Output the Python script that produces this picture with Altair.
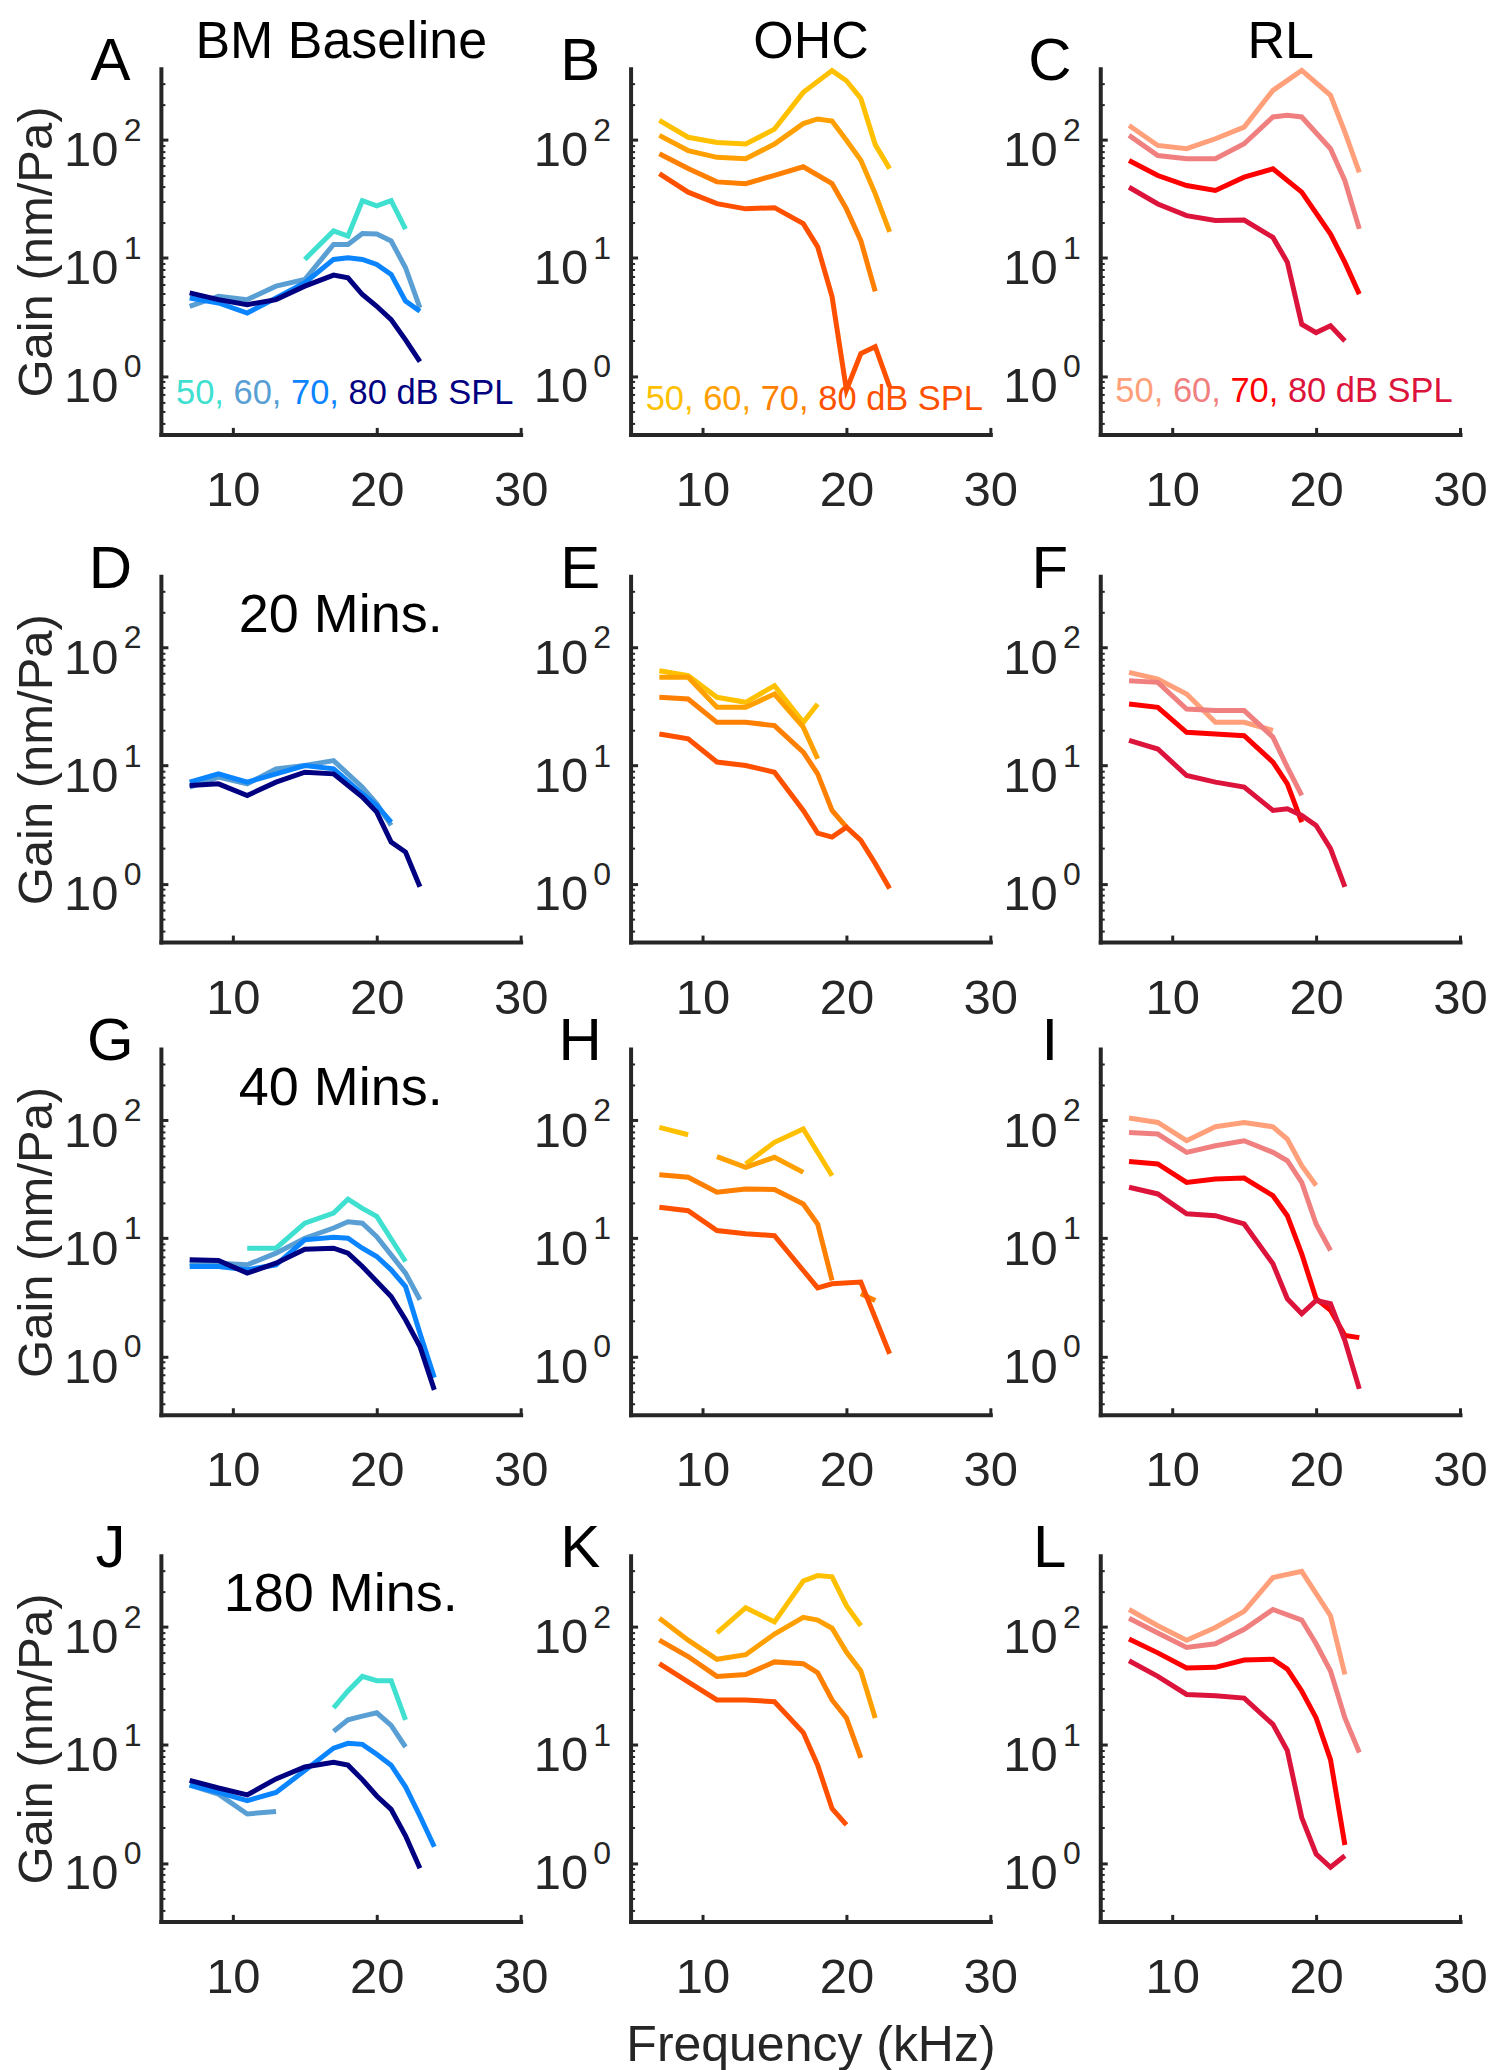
import altair as alt
import pandas as pd

# ---------------------------------------------------------------- data
LEVELS = ["50", "60", "70", "80"]
COLUMN_TITLES = ["BM Baseline", "OHC", "RL"]
TIME_LABELS = ["", "20 Mins.", "40 Mins.", "180 Mins."]
PANEL_LETTERS = [["A", "B", "C"], ["D", "E", "F"], ["G", "H", "I"], ["J", "K", "L"]]

BM_COLORS = ["#40E0D0", "#5A9FD4", "#0A84FF", "#000080"]
OHC_COLORS = ["#FFC000", "#FFA000", "#FF7F00", "#FF5000"]
RL_COLORS = ["#FFA07A", "#F08080", "#FF0000", "#DC143C"]

FREQ_TICKS = [10, 20, 30]
GAIN_DECADES = [1, 10, 100]
GAIN_MINOR = [0.4, 0.5, 0.6, 0.7, 0.8, 0.9, 2, 3, 4, 5, 6, 7, 8, 9,
              20, 30, 40, 50, 60, 70, 80, 90, 200, 300]

LEGEND_PIECES = ["50,", "60,", "70,", "80 dB SPL"]
LEGEND_X0 = 6.05
LEGEND_Y = [0.70, 0.62, 0.73]
TIME_LABEL_X = 17.5
TIME_LABEL_Y = 185

# (frequency kHz, gain nm/Pa); None breaks the line
A_50 = [(15, 9.7), (17, 16.9), (18, 15.3), (19, 30.5), (20, 27.6), (21, 30.5), (22, 17.5)]
A_60 = [(7, 3.89), (9, 4.73), (11, 4.43), (13, 5.76), (15, 6.56), (17, 13.0), (18, 13.0),
        (19, 16.1), (20, 15.9), (21, 13.9), (22, 8.25), (23, 3.77)]
A_70 = [(7, 4.58), (9, 4.15), (11, 3.41), (13, 4.58), (15, 6.15), (17, 9.7), (18, 10.0),
        (19, 9.7), (20, 8.8), (21, 7.24), (22, 4.3), (23, 3.53)]
A_80 = [(7, 5.05), (9, 4.43), (11, 4.02), (13, 4.43), (15, 5.76), (17, 7.14), (18, 6.78),
        (19, 4.89), (20, 3.89), (21, 3.0), (22, 2.02), (23, 1.32)]

B_50 = [(7, 146), (9, 105), (11, 95), (13, 92), (15, 123), (17, 252), (19, 385),
        (20, 316), (21, 224), (22, 91), (23, 57)]
B_60 = [(7, 109), (9, 81), (11, 71), (13, 69), (15, 92), (17, 137), (18, 150), (19, 144),
        (20, 99), (21, 67), (22, 35), (23, 16.6)]
B_70 = [(7, 76), (9, 57), (11, 44), (13, 42.5), (15, 50), (17, 59), (19, 42.5), (20, 26),
        (21, 14), (22, 5.2)]
B_80 = [(7, 51.6), (9, 36), (11, 28.8), (13, 26), (15, 26.6), (17, 19.5), (18, 12.4),
        (19, 4.7), (20, 0.76), (21, 1.55), (22, 1.77), (23, 0.81)]

C_50 = [(7, 132), (9, 89.5), (11, 84), (13, 102), (15, 128), (17, 262), (19, 387),
        (21, 238), (22, 116), (23, 53)]
C_60 = [(7, 109), (9, 73.6), (11, 69), (13, 69), (15, 92.5), (17, 156), (18, 161),
        (19, 156), (21, 84), (22, 45), (23, 17.6)]
C_70 = [(7, 66.8), (9, 49.8), (11, 41), (13, 37.2), (15, 48.2), (17, 56.7), (19, 36),
        (21, 15.9), (22, 9.16), (23, 4.93)]
C_80 = [(7, 39.6), (9, 28.6), (11, 22.8), (13, 20.7), (15, 20.9), (17, 14.9), (18, 9.2),
        (19, 2.74), (20, 2.33), (21, 2.66), (22, 1.98)]

D_50 = []
D_60 = [(7, 6.56), (9, 7.97), (11, 7.0), (13, 9.37), (15, 10.0), (17, 11.0), (19, 6.56),
        (20, 4.74), (21, 3.11)]
D_70 = [(7, 7.23), (9, 8.5), (11, 7.23), (13, 8.5), (15, 10.0), (17, 9.37), (19, 5.76),
        (20, 4.59), (21, 3.32)]
D_80 = [(7, 6.78), (9, 7.0), (11, 5.58), (13, 7.23), (15, 8.78), (17, 8.5), (19, 5.4),
        (20, 4.03), (21, 2.25), (22, 1.85), (23, 0.94)]

E_50 = [(7, 63.5), (9, 57.6), (11, 37.8), (13, 34.3), (15, 47.4), (17, 23.2), (18, 33.2)]
E_60 = [(7, 55.8), (9, 55.8), (11, 31.1), (13, 31.1), (15, 40.3), (17, 21.1), (18, 11.4)]
E_70 = [(7, 37.8), (9, 36.6), (11, 23.2), (13, 23.2), (15, 21.8), (17, 13.0), (18, 8.5),
        (19, 4.17), (20, 3.01)]
E_80 = [(7, 18.5), (9, 16.8), (11, 10.7), (13, 10.0), (15, 8.78), (17, 4.17), (18, 2.68),
        (19, 2.48), (20, 3.01), (21, 2.32), (22, 1.48), (23, 0.91)]

F_50 = [(7, 61.5), (9, 54), (11, 40.3), (13, 23.2), (15, 23.2), (17, 19.8)]
F_60 = [(7, 52.3), (9, 50.6), (11, 30.1), (13, 29.2), (15, 29.2), (17, 17.4), (18, 9.68),
        (19, 5.58)]
F_70 = [(7, 33.2), (9, 31.1), (11, 19.1), (13, 18.5), (15, 17.9), (17, 10.7), (18, 7.0),
        (19, 3.32)]
F_80 = [(7, 16.3), (9, 13.8), (11, 8.23), (13, 7.23), (15, 6.56), (17, 4.17), (18, 4.3),
        (19, 3.78), (20, 3.11), (21, 1.98), (22, 0.94)]

G_50 = [(11, 8.23), (13, 8.23), (15, 13.4), (17, 16.3), (18, 21.4), (19, 17.9), (20, 15.3),
        (22, 6.35)]
G_60 = [(7, 6.15), (9, 6.15), (11, 5.95), (13, 7.47), (15, 10.0), (17, 12.2), (18, 13.8),
        (19, 13.4), (20, 10.3), (21, 7.23), (22, 5.06), (23, 3.01)]
G_70 = [(7, 5.76), (9, 5.76), (11, 5.4), (13, 5.95), (15, 9.68), (17, 10.2), (18, 10.0),
        (19, 8.23), (20, 7.0), (21, 5.4), (22, 3.9), (23, 1.57), (24, 0.66)]
G_80 = [(7, 6.56), (9, 6.47), (11, 5.06), (13, 6.15), (15, 8.07), (17, 8.23), (18, 7.47),
        (19, 5.76), (20, 4.3), (21, 3.21), (22, 2.04), (23, 1.21), (24, 0.52)]

H_50 = [(7, 86.7), (9, 75.2), (11, None), (13, 42.5), (15, 64.8), (17, 84), (19, 33.8)]
H_60 = [(11, 49), (13, 39.8), (15, 48.4), (17, 36.1)]
H_70 = [(7, 34.5), (9, 32.8), (11, 24.5), (13, 26.1), (15, 25.8), (17, 19.5), (18, 13.2),
        (19, 4.39), (20, None), (21, 3.38), (22, 2.97)]
H_80 = [(7, 18.3), (9, 17.1), (11, 11.6), (13, 10.9), (15, 10.5), (17, 5.33), (18, 3.8),
        (19, 4.11), (21, 4.25), (23, 1.05)]

I_50 = [(7, 104), (9, 95.5), (11, 66.9), (13, 87.8), (15, 95.5), (17, 87.8), (18, 69),
        (19, 41.1), (20, 27.9)]
I_60 = [(7, 78.7), (9, 76.2), (11, 53.3), (13, 60.7), (15, 66.9), (17, 53.3), (18, 45.3),
        (19, 29.7), (20, 13.2), (21, 7.87)]
I_70 = [(7, 44.7), (9, 42.5), (11, 29.7), (13, 31.7), (15, 32.3), (17, 22.9), (18, 15.5),
        (19, 7.37), (20, 3.07), (21, 2.45), (22, 1.5), (23, 1.44)]
I_80 = [(7, 27), (9, 23.7), (11, 16.1), (13, 15.5), (15, 13.2), (17, 6.07), (18, 3.07),
        (19, 2.29), (20, 2.97), (21, 2.79), (22, 1.36), (23, 0.53)]

J_50 = [(17, 20.6), (18, 28.6), (19, 38), (20, 34.9), (21, 34.9), (22, 16.3)]
J_60 = [(7, 4.57), (9, 3.83), (11, 2.6), (13, 2.73), (15, None), (17, 13), (18, 16.3),
        (19, 17.5), (20, 18.7), (21, 14.6), (22, 9.59)]
J_70 = [(7, 4.57), (9, 3.96), (11, 3.37), (13, 3.96), (15, 6.06), (17, 9.38), (18, 10.3),
        (19, 10.1), (20, 8.32), (21, 6.73), (22, 4.41), (23, 2.5), (24, 1.37)]
J_80 = [(7, 5.0), (9, 4.31), (11, 3.77), (13, 5.15), (15, 6.5), (17, 7.12), (18, 6.73),
        (19, 5.08), (20, 3.69), (21, 2.84), (22, 1.7), (23, 0.9)]

K_50 = [(11, 88.7), (13, 145), (15, 110), (17, 244), (18, 271), (19, 265), (20, 151),
        (21, 102)]
K_60 = [(7, 118), (9, 77), (11, 53), (13, 58), (15, 86.8), (17, 120), (18, 114), (19, 97.2),
        (20, 61), (21, 42.2), (22, 16.9)]
K_70 = [(7, 77), (9, 56), (11, 38), (13, 39.4), (15, 50.4), (17, 48.7), (18, 40.8),
        (19, 24), (20, 16.9), (21, 7.76)]
K_80 = [(7, 48.7), (9, 34.2), (11, 24), (13, 24), (15, 23.2), (17, 12.7), (18, 6.73),
        (19, 2.89), (20, 2.1)]

L_50 = [(7, 140), (9, 102), (11, 77), (13, 98.6), (15, 135), (17, 261), (19, 295),
        (21, 124), (22, 39.4)]
L_60 = [(7, 118), (9, 88.7), (11, 66.9), (13, 71.8), (15, 95.2), (17, 140), (19, 114),
        (20, 71.8), (21, 42.2), (22, 16.9), (23, 8.62)]
L_70 = [(7, 78.7), (9, 60.1), (11, 44.7), (13, 45.3), (15, 52.2), (17, 53), (18, 43.8),
        (19, 28.6), (20, 16.9), (21, 7.49), (22, 1.42)]
L_80 = [(7, 51.5), (9, 38), (11, 26.7), (13, 26.1), (15, 24.9), (17, 14.9), (18, 8.93),
        (19, 2.42), (20, 1.19), (21, 0.92), (22, 1.15)]

PANEL_SERIES = {
    "A": [A_50, A_60, A_70, A_80], "B": [B_50, B_60, B_70, B_80], "C": [C_50, C_60, C_70, C_80],
    "D": [D_50, D_60, D_70, D_80], "E": [E_50, E_60, E_70, E_80], "F": [F_50, F_60, F_70, F_80],
    "G": [G_50, G_60, G_70, G_80], "H": [H_50, H_60, H_70, H_80], "I": [I_50, I_60, I_70, I_80],
    "J": [J_50, J_60, J_70, J_80], "K": [K_50, K_60, K_70, K_80], "L": [L_50, L_60, L_70, L_80],
}
COLUMN_COLORS = [BM_COLORS, OHC_COLORS, RL_COLORS]

# ---------------------------------------------------------------- style / layout
FONT = "Liberation Sans"
AXIS_GRAY = "#262626"
PANEL_W, PANEL_H = 360, 366
COL_GAP = 110
ROW_GAPS = [142, 107, 141]
X_DOMAIN = [5, 30]
Y_DOMAIN = [0.32, 400]
LEGEND_FS = 34.5
LINE_W = 5
PX_PER_KHZ = PANEL_W / (X_DOMAIN[1] - X_DOMAIN[0])
CHAR_EM = {"0": .556, "1": .556, "2": .556, "3": .556, "4": .556, "5": .556, "6": .556,
           "7": .556, "8": .556, "9": .556, ",": .278, " ": .278}

xs = alt.Scale(domain=X_DOMAIN, nice=False, zero=False)
ys = alt.Scale(type="log", domain=Y_DOMAIN, nice=False)


def series_frame(series_list, colors):
    recs = []
    for lvl, col, pts in zip(LEVELS, colors, series_list):
        seg = 0
        for f, g in pts:
            if g is None:
                seg += 1
                continue
            recs.append({"f": f, "g": g, "key": f"{lvl}-{seg}", "color": col})
    return pd.DataFrame(recs)


def legend_frame(c):
    recs = []
    x = LEGEND_X0
    for piece, col in zip(LEGEND_PIECES, COLUMN_COLORS[c]):
        recs.append({"x": x, "y": LEGEND_Y[c], "t": piece, "color": col})
        w_em = sum(CHAR_EM.get(ch, .6) for ch in piece + " ")
        x += w_em * LEGEND_FS / PX_PER_KHZ
    return pd.DataFrame(recs)


def make_panel(r, c):
    letter = PANEL_LETTERS[r][c]
    df = series_frame(PANEL_SERIES[letter], COLUMN_COLORS[c])

    xm = dict(values=FREQ_TICKS, format="d", ticks=False, tickSize=0, domainWidth=4,
              domainColor=AXIS_GRAY, domainCap="square", labelFontSize=49,
              labelColor=AXIS_GRAY, labelPadding=32, labelFlush=False, grid=False)
    if r == 3 and c == 1:
        xm.update(title="Frequency (kHz)", titleFontSize=50, titleColor=AXIS_GRAY,
                  titleFontWeight="normal", titlePadding=18, titleLimit=600)
    else:
        xm["title"] = None

    ym = dict(values=GAIN_DECADES, labelExpr="'10'", ticks=False, tickSize=0, domainWidth=4,
              domainColor=AXIS_GRAY, domainCap="square", labelFontSize=49,
              labelColor=AXIS_GRAY, labelPadding=43, labelOffset=11, grid=False)
    if c == 0:
        ym.update(title="Gain (nm/Pa)", titleFontSize=49, titleColor=AXIS_GRAY,
                  titleFontWeight="normal", titlePadding=2, titleLimit=600)
    else:
        ym["title"] = None

    lines = alt.Chart(df).mark_line(strokeWidth=LINE_W).encode(
        x=alt.X("f:Q", scale=xs, axis=alt.Axis(**xm)),
        y=alt.Y("g:Q", scale=ys, axis=alt.Axis(**ym)),
        color=alt.Color("color:N", scale=None),
        detail="key:N",
        order="f:Q",
    )

    ticks = alt.Chart(df).mark_point(opacity=0).encode(
        x=alt.X("f:Q", scale=xs, axis=alt.Axis(
            orient="bottom", offset=-7, values=FREQ_TICKS, tickSize=7, tickWidth=3,
            tickColor=AXIS_GRAY, domain=False, labels=False, grid=False, title=None)),
        y=alt.Y("g:Q", scale=ys, axis=alt.Axis(
            orient="left", offset=-7, values=GAIN_DECADES, tickSize=7, tickWidth=3,
            tickColor=AXIS_GRAY, domain=False, grid=False,
            labelExpr="datum.value < 3 ? '0' : (datum.value < 30 ? '1' : '2')",
            labelFontSize=32, labelColor=AXIS_GRAY, labelPadding=20, labelOffset=-9.5,
            title=letter, titleAngle=0, titleX=-58, titleY=11, titleAlign="center",
            titleBaseline="alphabetic", titleFontSize=60, titleColor="black",
            titleFontWeight="normal")),
    )

    if r == 0:
        head_axis = alt.Axis(orient="top", domain=False, ticks=False, labels=False, grid=False,
                             title=COLUMN_TITLES[c], titleX=PANEL_W / 2, titleY=-11,
                             titleAlign="center", titleBaseline="alphabetic", titleAngle=0,
                             titleFontSize=52, titleColor="black", titleFontWeight="normal",
                             titleLimit=600)
        x_minor = alt.X("f:Q", scale=xs, axis=head_axis)
    else:
        x_minor = alt.X("f:Q", scale=xs, axis=None)
    minor = alt.Chart(df).mark_point(opacity=0).encode(
        x=x_minor,
        y=alt.Y("g:Q", scale=ys, axis=alt.Axis(
            orient="left", offset=-4, values=GAIN_MINOR, tickSize=4, tickWidth=2,
            tickColor=AXIS_GRAY, domain=False, labels=False, grid=False, title=None)),
    )

    layers = [lines]
    if r == 0:
        layers.append(alt.Chart(legend_frame(c)).mark_text(
            align="left", baseline="middle", fontSize=LEGEND_FS).encode(
            x=alt.X("x:Q", scale=xs, axis=None),
            y=alt.Y("y:Q", scale=ys, axis=None),
            text="t:N",
            color=alt.Color("color:N", scale=None)))
    if c == 0 and r > 0:
        tdf = pd.DataFrame({"x": [TIME_LABEL_X], "y": [TIME_LABEL_Y], "t": [TIME_LABELS[r]]})
        layers.append(alt.Chart(tdf).mark_text(
            align="center", baseline="middle", fontSize=54, color="black").encode(
            x=alt.X("x:Q", scale=xs, axis=None),
            y=alt.Y("y:Q", scale=ys, axis=None),
            text="t:N"))
    layers += [ticks, minor]

    return alt.layer(*layers).resolve_axis(x="independent", y="independent").properties(
        width=PANEL_W, height=PANEL_H)


def spacer(h):
    return alt.Chart(pd.DataFrame({"v": [1]})).mark_point(opacity=0).encode(
        x=alt.X("v:Q", axis=None), y=alt.Y("v:Q", axis=None)
    ).properties(width=PANEL_W, height=h)


cells = []
for r in range(4):
    for c in range(3):
        cells.append(make_panel(r, c))
    if r < 3:
        for c in range(3):
            cells.append(spacer(ROW_GAPS[r]))

chart = alt.concat(
    *cells, columns=3, spacing={"row": 0, "column": COL_GAP}, bounds="flush", align="each"
).properties(
    padding={"left": 4, "top": 7, "right": 0, "bottom": 0}
).configure(font=FONT).configure_view(stroke=None)

chart.save("out.html", embed_options={"renderer": "svg", "actions": False})
